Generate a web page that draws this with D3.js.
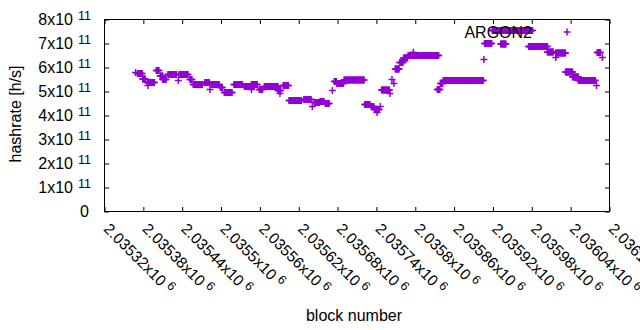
<!DOCTYPE html>
<html>
<head>
<meta charset="utf-8">
<script src="https://cdn.jsdelivr.net/npm/d3@7"></script>
<style>
body { margin: 0; background: #fff; }
text { font-family: "Liberation Sans", Arial, sans-serif; fill: #000; }
</style>
</head>
<body>
<svg id="chart" width="640" height="330"></svg>
<script>
// runs of consecutive blocks sharing the same difficulty (so the same hashrate)
const runFirstBlock = [2035368,2035371,2035379,2035386,2035387,2035400,2035406,2035410,2035418,2035434,
	2035435,2035452,2035457,2035475,2035483,2035485,2035499,2035505,2035520,2035536,
	2035547,2035547,2035559,2035567,2035588,2035591,2035596,2035605,2035628,2035641,
	2035644,2035653,2035661,2035672,2035675,2035679,2035690,2035722,2035732,2035737,
	2035741,2035746,2035748,2035761,2035764,2035767,2035769,2035776,2035782,2035789,
	2035797,2035834,2035839,2035843,2035906,2035907,2035919,2035932,2035975,2036004,
	2036017,2036017,2036032,2036043,2036052,2036080,2036081,2036089];
const runLastBlock = [2035368,2035378,2035383,2035397,2035387,2035404,2035410,2035415,2035431,2035434,
	2035449,2035455,2035471,2035482,2035483,2035497,2035502,2035517,2035533,2035551,
	2035547,2035556,2035564,2035588,2035592,2035591,2035604,2035624,2035639,2035641,
	2035652,2035659,2035667,2035672,2035678,2035689,2035721,2035730,2035736,2035744,
	2035741,2035746,2035760,2035761,2035764,2035767,2035775,2035781,2035788,2035836,
	2035797,2035838,2035842,2035905,2035906,2035918,2035981,2035940,2036004,2036013,
	2036017,2036032,2036043,2036052,2036078,2036080,2036086,2036089];
const runHashrate = [5.79e11,5.75e11,5.52e11,5.38e11,5.25e11,5.88e11,5.65e11,5.50e11,5.71e11,5.46e11,
	5.71e11,5.50e11,5.29e11,5.38e11,5.08e11,5.29e11,5.17e11,4.96e11,5.29e11,5.21e11,
	5.08e11,5.29e11,5.08e11,5.21e11,5.04e11,4.92e11,5.25e11,4.63e11,4.67e11,4.38e11,
	4.54e11,4.58e11,4.50e11,5.04e11,5.42e11,5.33e11,5.48e11,4.46e11,4.37e11,4.25e11,
	4.13e11,4.38e11,5.06e11,4.92e11,5.50e11,5.33e11,5.94e11,6.21e11,6.40e11,6.50e11,
	6.64e11,5.08e11,5.33e11,5.46e11,6.33e11,7.00e11,7.54e11,6.98e11,6.88e11,6.65e11,
	6.42e11,6.60e11,5.81e11,5.60e11,5.46e11,5.25e11,6.63e11,6.42e11];

const xTicks = [2035320,2035380,2035440,2035500,2035560,2035620,2035680,2035740,
	2035800,2035860,2035920,2035980,2036040,2036100];
const yTicks = [0,1e11,2e11,3e11,4e11,5e11,6e11,7e11,8e11];
const seriesName = "ARGON2";

const svg = d3.select("#chart");
const plotLeft = 104.5, plotRight = 609.5, plotTop = 19.5, plotBottom = 211.5;
const purple = "#9400d3";

let x = d3.scaleLinear().domain([2035320, 2036100]).range([plotLeft, plotRight]);
let y = d3.scaleLinear().domain([0, 8e11]).range([plotBottom, plotTop]);

let points = [];
runFirstBlock.forEach((b0, i) => {
	for (let b = b0; b <= runLastBlock[i]; b++) {
		points.push({block: b, hashrate: runHashrate[i]});
	}
});

// ticks on all four sides, pointing inwards
function tickStyle(g) {
	g.select(".domain").remove();
	g.selectAll("text").remove();
	g.selectAll("line").attr("stroke", "#000");
}
svg.append("g").attr("transform", `translate(0,${plotBottom})`)
	.call(d3.axisBottom(x).tickValues(xTicks).tickSizeInner(-4.5).tickSizeOuter(0)).call(tickStyle);
svg.append("g").attr("transform", `translate(0,${plotTop})`)
	.call(d3.axisTop(x).tickValues(xTicks).tickSizeInner(-4.5).tickSizeOuter(0)).call(tickStyle);
svg.append("g").attr("transform", `translate(${plotLeft},0)`)
	.call(d3.axisLeft(y).tickValues(yTicks).tickSizeInner(-4.5).tickSizeOuter(0)).call(tickStyle);
svg.append("g").attr("transform", `translate(${plotRight},0)`)
	.call(d3.axisRight(y).tickValues(yTicks).tickSizeInner(-4.5).tickSizeOuter(0)).call(tickStyle);

svg.append("rect")
	.attr("x", plotLeft).attr("y", plotTop)
	.attr("width", plotRight - plotLeft).attr("height", plotBottom - plotTop)
	.attr("fill", "none").attr("stroke", "#000");

// y tick labels  "5x10^11"
let yl = svg.selectAll(".ylab")
	.data(yTicks)
	.join("text")
	.attr("class", "ylab")
	.attr("x", 91)
	.attr("y", d => y(d) + 5.5)
	.attr("text-anchor", "end")
	.style("font-size", "16px");
yl.filter(d => d == 0).attr("x", 89).text("0");
yl.filter(d => d != 0).each(function(d) {
	let t = d3.select(this);
	t.append("tspan").text((d / 1e11) + "x10");
	t.append("tspan").attr("dx", 5).attr("dy", -5.5).style("font-size", "12.5px").text("11");
});

// x tick labels, rotated
svg.selectAll(".xlab")
	.data(xTicks)
	.join("text")
	.attr("class", "xlab")
	.attr("transform", d => `translate(${x(d) + 2},226) rotate(45)`)
	.attr("dy", "0.35em")
	.style("font-size", "15.5px")
	.each(function(d) {
		let t = d3.select(this);
		t.append("tspan").text(String(+(d / 1e6).toFixed(5)) + "x10");
		t.append("tspan").attr("dx", 4).attr("dy", -5).style("font-size", "12.5px").text("6");
	});

svg.append("text")
	.attr("transform", "translate(21,114) rotate(-90)")
	.attr("text-anchor", "middle")
	.style("font-size", "16px")
	.text("hashrate [h/s]");

svg.append("text")
	.attr("x", 354)
	.attr("y", 321)
	.attr("text-anchor", "middle")
	.style("font-size", "16px")
	.text("block number");

const cross = "M-3.5,0H3.5M0,-3.5V3.5";

svg.append("g")
	.selectAll("path")
	.data(points)
	.join("path")
	.attr("transform", d => `translate(${x(d.block)},${y(d.hashrate)})`)
	.attr("d", cross)
	.attr("stroke", purple)
	.attr("stroke-width", 1.5)
	.attr("fill", "none");

// key
svg.append("text")
	.attr("x", 532)
	.attr("y", 37.5)
	.attr("text-anchor", "end")
	.style("font-size", "16px")
	.text(seriesName);
svg.append("path")
	.attr("transform", "translate(567,32)")
	.attr("d", cross)
	.attr("stroke", purple)
	.attr("stroke-width", 1.5);
</script>
</body>
</html>
